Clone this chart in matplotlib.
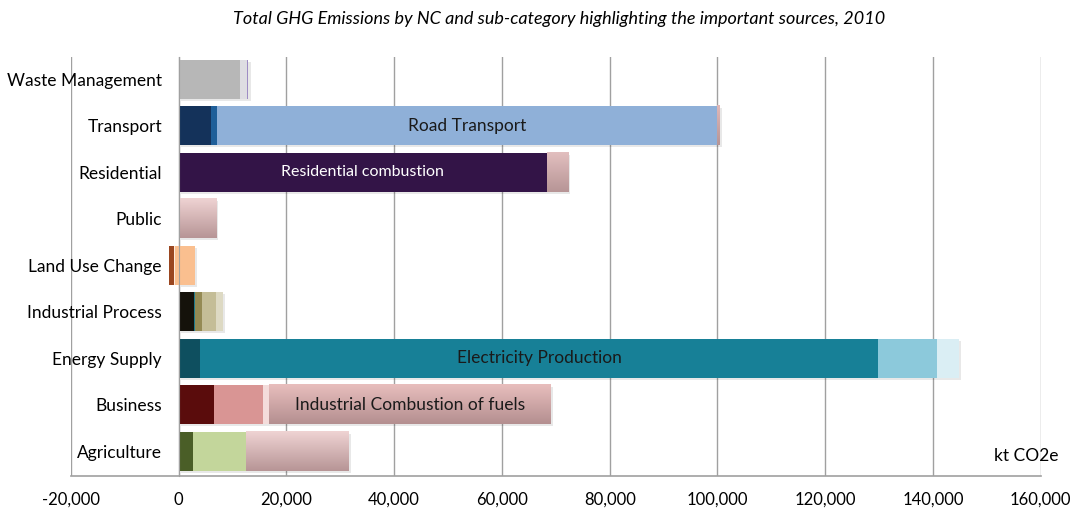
import matplotlib.pyplot as plt
import numpy as np
from matplotlib.colors import LinearSegmentedColormap

plt.rcParams['font.family'] = ['Lato', 'DejaVu Sans']

categories = ["Agriculture", "Business", "Energy Supply", "Industrial Process",
              "Land Use Change", "Public", "Residential", "Transport", "Waste Management"]

# sub-category values (kt CO2e), stacked left to right
agriculture = [2700, 9800, 19100]
business = [6600, 9100, 1100, 52200]
energy = [4000, 125800, 10900, 4100]
industrial = [2900, 150, 1300, 2600, 1300]
land_use_pos = [3000]
land_use_neg = [-600, -250, -850]
public = [6900]
residential = [68300, 3900]
transport = [6100, 1100, 92700, 500]
waste = [11400, 1300, 250]

highlights = [("Road Transport", "Transport"),
              ("Residential combustion", "Residential"),
              ("Electricity Production", "Energy Supply"),
              ("Industrial Combustion of fuels", "Business")]

# colours: plain string = flat fill, tuple = vertical gradient (top, bottom)
pink = ("#EFD3D3", "#B79596")
styles = {
    "Agriculture": ["#4A5E27", "#C3D69B", pink],
    "Business": ["#5A0C0C", "#D99594", "#F4DCDB", ("#E8BEBD", "#B48F90")],
    "Energy Supply": ["#0E4F5F", "#178097", "#8CC9DB", "#DAEEF4"],
    "Industrial Process": ["#15120B", "#1F7A8C", "#948A54", "#C4BD97", "#DDD9C3"],
    "Land Use Change": ["#FABF8F"],
    "Public": [pink],
    "Residential": ["#331447", ("#E2BFBF", "#B79596")],
    "Transport": ["#14325A", "#1F5F99", "#8FB0D8", ("#E0B8B8", "#B79596")],
    "Waste Management": ["#B7B7B7", "#DEDDE2", "#9E8CC4"],
}
neg_styles = ["#FABF8F", "#FDE9D9", "#9A4620"]

values = {
    "Agriculture": agriculture, "Business": business, "Energy Supply": energy,
    "Industrial Process": industrial, "Land Use Change": land_use_pos,
    "Public": public, "Residential": residential, "Transport": transport,
    "Waste Management": waste,
}

fig = plt.figure(figsize=(10.73, 5.11), dpi=100)
ax = fig.add_axes([0.066, 0.068, 0.904, 0.82])
bh = 0.84


def seg(y, left, width, col):
    if isinstance(col, tuple):
        cmap = LinearSegmentedColormap.from_list("g", [col[0], col[1]])
        grad = np.linspace(0, 1, 64).reshape(-1, 1)
        ax.imshow(grad, cmap=cmap, aspect="auto", zorder=3,
                  extent=(left, left + width, y - bh / 2, y + bh / 2),
                  origin="upper", interpolation="bilinear")
    else:
        ax.barh(y, width, left=left, height=bh, color=col, zorder=3, linewidth=0)


for i, cat in enumerate(categories):
    vals = values[cat]
    total = sum(vals)
    # soft drop shadow
    ax.barh(i - 0.05, total, left=400, height=bh, color="#000000", alpha=0.09,
            zorder=2, linewidth=0)
    left = 0
    for v, c in zip(vals, styles[cat]):
        seg(i, left, v, c)
        left += v

i_lu = categories.index("Land Use Change")
left = 0
for v, c in zip(land_use_neg, neg_styles):
    seg(i_lu, left + v, -v, c)
    left += v

# labels of the important sources
for label, cat in highlights:
    i = categories.index(cat)
    vals = values[cat]
    if cat == "Transport":
        x0, x1 = sum(vals[:2]), sum(vals[:3])
        col, fs = "#1A1A1A", 12.5
    elif cat == "Residential":
        x0, x1 = 0, vals[0]
        col, fs = "white", 11.5
    elif cat == "Energy Supply":
        x0, x1 = vals[0], sum(vals[:2])
        col, fs = "#1A1A1A", 12.5
    else:
        x0, x1 = sum(vals[:3]), sum(vals)
        col, fs = "#1A1A1A", 12.5
    ax.text((x0 + x1) / 2, i, label, ha="center", va="center", fontsize=fs,
            color=col, zorder=5)

ax.spines["left"].set_position(("data", 0))
ax.spines["left"].set_color("#A0A0A0")
ax.spines["left"].set_zorder(4)
ax.spines["bottom"].set_color("#A0A0A0")
ax.spines["bottom"].set_linewidth(1.2)
ax.spines["top"].set_visible(False)
ax.spines["right"].set_visible(False)

ax.set_xlim(-20000, 160000)
ax.set_ylim(-0.54, 8.47)
ax.set_xticks(np.arange(-20000, 160001, 20000))
ax.set_xticklabels([f"{t:,}" for t in range(-20000, 160001, 20000)])
ax.set_yticks(range(len(categories)))
ax.set_yticklabels(categories)
ax.tick_params(axis="x", length=0, pad=11, labelsize=12)
ax.tick_params(axis="y", length=0, pad=12, labelsize=12.5)
ax.grid(axis="x", color="#A0A0A0", linewidth=1)
ax.set_axisbelow(True)

ax.text(0.985, 0.048, "kt CO2e", transform=ax.transAxes, ha="center",
        va="center", fontsize=12.5)
fig.text(0.521, 0.962, "Total GHG Emissions by NC and sub-category highlighting the important sources, 2010",
         ha="center", va="center", fontsize=13, style="italic")

fig.savefig("out.png", dpi=100)
